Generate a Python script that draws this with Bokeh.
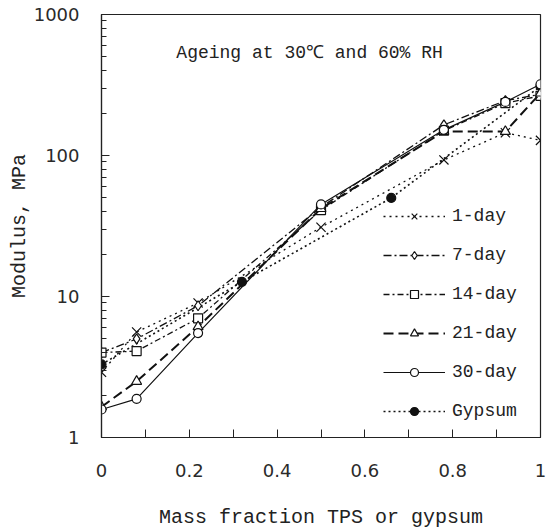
from bokeh.plotting import figure
from bokeh.models import (FixedTicker, CustomJSTickFormatter, Legend, LegendItem,
                          Range1d, Label, ColumnDataSource)
from bokeh.embed import file_html
from bokeh.resources import INLINE

# ---- data ----
x_frac = [0, 0.08, 0.22, 0.5, 0.78, 0.92, 1.0]
day1 = [2.9, 5.6, 9.0, 31, 93, 145, 128]
day7 = [4.0, 5.0, 8.6, 43, 165, 245, 272]
day14 = [4.0, 4.1, 7.0, 41, 150, 235, 265]
day21 = [1.65, 2.5, 6.1, 42, 148, 148, 277]
day30 = [1.58, 1.88, 5.5, 45, 152, 240, 320]
gyp_x = [0, 0.32, 0.66, 1.0]
gypsum = [3.3, 12.7, 50, 310]

x_ticks = [0, 0.2, 0.4, 0.6, 0.8, 1]
x_minor = [0.1, 0.3, 0.5, 0.7, 0.9]
y_ticks = [1, 10, 100, 1000]

LABEL_FONT = "Liberation Mono"
TICK_FONT = "DejaVu Sans"

p = figure(width=546, height=531, y_axis_type="log", output_backend="svg",
           toolbar_location=None,
           x_range=Range1d(0, 1), y_range=Range1d(1, 1000),
           min_border_left=101, min_border_right=6, min_border_top=14,
           min_border_bottom=94)
p.grid.visible = False
p.outline_line_color = "#222222"
p.outline_line_width = 1.2
p.background_fill_color = "white"
p.border_fill_color = "white"

# axes
p.xaxis.ticker = FixedTicker(ticks=x_ticks, minor_ticks=x_minor)
p.xaxis.formatter = CustomJSTickFormatter(code="return Number(tick.toFixed(1)).toString();")
p.yaxis.ticker = FixedTicker(ticks=y_ticks,
                             minor_ticks=[m * d for d in (1, 10, 100) for m in range(2, 10)])
p.yaxis.formatter = CustomJSTickFormatter(code="return Math.round(tick).toString();")
for ax in (p.xaxis, p.yaxis):
    ax.axis_line_color = "#222222"
    ax.axis_line_width = 1.2
    ax.major_tick_line_color = "#222222"
    ax.minor_tick_line_color = "#222222"
    ax.major_tick_out = 0
    ax.minor_tick_out = 0
    ax.major_label_text_font = TICK_FONT
    ax.major_label_text_font_size = "18px"
    ax.major_label_text_color = "#2a2a2a"
    ax.axis_label_text_font = LABEL_FONT
    ax.axis_label_text_font_size = "20px"
    ax.axis_label_text_font_style = "normal"
    ax.axis_label_text_color = "#222222"
p.xaxis.major_tick_in = 8
p.xaxis.minor_tick_in = 8
p.yaxis.major_tick_in = 8
p.yaxis.minor_tick_in = 5
p.xaxis.major_label_standoff = 26
p.yaxis.major_label_standoff = 22
p.xaxis.axis_label = "Mass fraction TPS or gypsum"
p.yaxis.axis_label = "Modulus, MPa"
p.xaxis.axis_label_standoff = 26
p.yaxis.axis_label_standoff = 0

black = "#111111"
series = [
    ("1-day", x_frac, day1, "x", "2 4", 1.3, "white", 13),
    ("7-day", x_frac, day7, "diamond", "8 3 2 3", 1.3, "white", 10),
    ("14-day", x_frac, day14, "square", "6 3 2 3", 1.3, "white", 9),
    ("21-day", x_frac, day21, "triangle", "10 5", 2.0, "white", 10),
    ("30-day", x_frac, day30, "circle", "solid", 1.2, "white", 9),
    ("Gypsum", gyp_x, gypsum, "circle", "2 3", 1.6, black, 9),
]

# draw gypsum first so the hollow markers sit on top of it
draw_order = [5, 0, 1, 2, 3, 4]
items = [None] * len(series)
for i in draw_order:
    name, xs, ys, marker, dash, lw, fill, size = series[i]
    src = ColumnDataSource(dict(x=xs, y=ys))
    lr = p.line("x", "y", source=src, line_color=black, line_width=lw, line_dash=dash)
    sr = p.scatter("x", "y", source=src, marker=marker, size=size,
                   line_color=black, line_width=1.2, fill_color=fill)
    items[i] = LegendItem(label=name, renderers=[lr, sr])

legend = Legend(items=items, location=(282, 16), background_fill_alpha=0,
                border_line_color=None, padding=0, margin=0,
                glyph_width=62, glyph_height=20, label_height=20,
                spacing=19, label_standoff=7,
                label_text_font=LABEL_FONT, label_text_font_size="18px",
                label_text_color="#222222")
p.add_layout(legend, "center")

title = Label(x=0.474, y=529, text="Ageing at 30℃ and 60% RH",
              text_align="center", text_baseline="middle",
              text_font=LABEL_FONT, text_font_size="18px", text_color="#222222")
p.add_layout(title)

open("out.html", "w").write(file_html(p, INLINE))
